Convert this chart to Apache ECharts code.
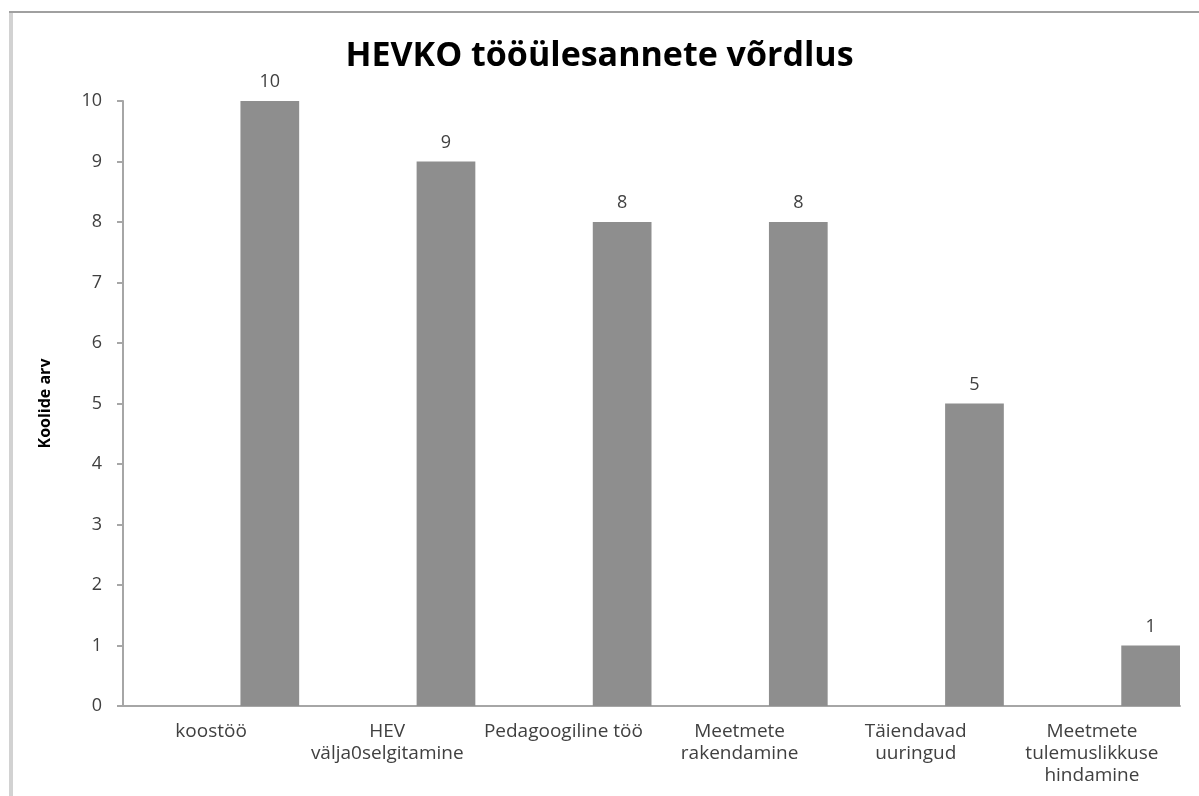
<!DOCTYPE html>
<html>
<head>
<meta charset="utf-8">
<script src="https://cdn.jsdelivr.net/npm/echarts@6/dist/echarts.min.js"></script>
<style>
  html, body { margin: 0; padding: 0; background: #fff; }
  #chart { width: 1199px; height: 796px; }
</style>
</head>
<body>
<div id="chart"></div>
<script>
// andmed
const categories = [
  'koostöö',
  'HEV\nvälja0selgitamine',
  'Pedagoogiline töö',
  'Meetmete\nrakendamine',
  'Täiendavad\nuuringud',
  'Meetmete\ntulemuslikkuse\nhindamine'
]
const schoolCounts = [10, 9, 8, 8, 5, 1]
// Excelis olid kaks tühja seeriat enne, sellepärast on tulp kategooria paremas servas
const emptySeries = [null, null, null, null, null, null]

const font = 'Open Sans'

const myChart = echarts.init(document.getElementById('chart'))

myChart.setOption({
  animation: false,
  title: {
    text: 'HEVKO tööülesannete võrdlus',
    left: 'center',
    top: 34,
    textStyle: { fontFamily: font, fontSize: 34, fontWeight: 'bold', color: '#000' }
  },
  // raam ümber joonise
  graphic: [
    { type: 'rect', shape: { x: 9, y: 11, width: 4, height: 790 }, style: { fill: '#d2d2d2' } },
    { type: 'rect', shape: { x: 9, y: 11, width: 1200, height: 2 }, style: { fill: '#a0a0a0' } }
  ],
  grid: { left: 123, right: 19, top: 101, bottom: 90 },
  xAxis: {
    type: 'category',
    data: categories,
    axisLine: { lineStyle: { color: '#a6a6a6', width: 2 } },
    axisTick: { show: false },
    axisLabel: {
      fontFamily: font,
      fontSize: 19,
      color: '#404040',
      lineHeight: 22,
      margin: 15,
      interval: 0
    }
  },
  yAxis: {
    type: 'value',
    min: 0,
    max: 10,
    interval: 1,
    name: 'Koolide arv',
    nameLocation: 'middle',
    nameGap: 70,
    nameTextStyle: { fontFamily: font, fontSize: 16, fontWeight: 'bold', color: '#000' },
    splitLine: { show: false },
    axisLine: { show: true, lineStyle: { color: '#a6a6a6', width: 2 } },
    axisTick: { show: true, length: 6, lineStyle: { color: '#a6a6a6', width: 2 } },
    axisLabel: { fontFamily: font, fontSize: 18, color: '#404040', margin: 21 }
  },
  series: [
    { type: 'bar', data: emptySeries, barGap: '0%', barCategoryGap: '0%' },
    { type: 'bar', data: emptySeries, barGap: '0%', barCategoryGap: '0%' },
    {
      type: 'bar',
      data: schoolCounts,
      barGap: '0%',
      barCategoryGap: '0%',
      itemStyle: { color: '#8e8e8e' },
      label: {
        show: true,
        position: 'top',
        distance: 10,
        fontFamily: font,
        fontSize: 18,
        color: '#404040'
      }
    }
  ]
})
</script>
</body>
</html>
